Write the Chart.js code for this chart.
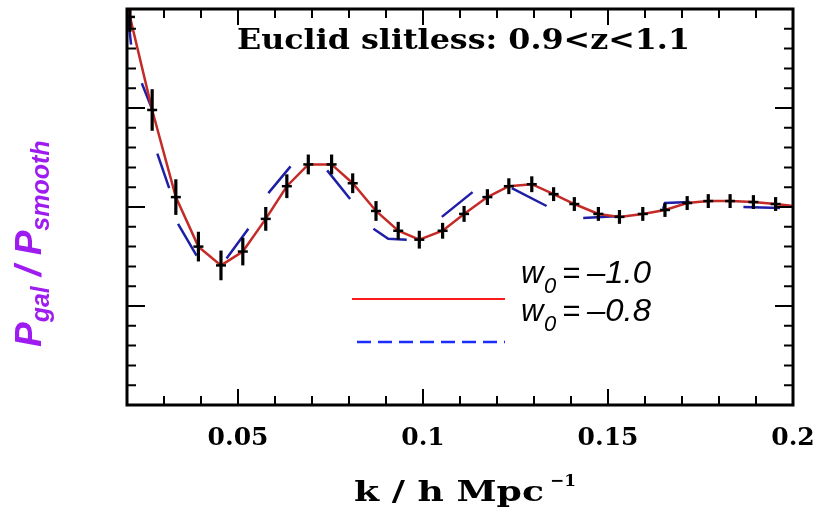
<!DOCTYPE html>
<html><head><meta charset="utf-8">
<script src="https://cdn.jsdelivr.net/npm/chart.js@4.4.1/dist/chart.umd.min.js"></script>
<style>html,body{margin:0;padding:0;background:#fff;}#wrap{width:823px;height:511px;}</style>
</head><body><div id="wrap"><canvas id="c" width="823" height="511"></canvas></div>
<script>
// ---- text ----
const titleText = "Euclid slitless: 0.9<z<1.1";
const xTitleMain = "k / h Mpc";
const xTitleSup = "\u22121";
const yTitleParts = [["P", false], ["gal", true], [" / ", false], ["P", false], ["smooth", true]];
const xTickLabels = ["0.05", "0.1", "0.15", "0.2"];
const legendLabels = ["\u20131.0", "\u20130.8"];

// ---- measured data points (k, Pgal/Psmooth, error) ----
const dataK = [0.0208, 0.0268, 0.0332, 0.0393, 0.0454, 0.0513, 0.0575, 0.0632, 0.0690, 0.0753,
               0.0810, 0.0873, 0.0933, 0.0990, 0.1053, 0.1111, 0.1174, 0.1232, 0.1294, 0.1353,
               0.1409, 0.1474, 0.1531, 0.1594, 0.1654, 0.1714, 0.1771, 0.1830, 0.1893, 0.1953];
const dataP = [1.192, 1.098, 1.010, 0.960, 0.941, 0.955, 0.988, 1.021, 1.043, 1.043,
               1.024, 0.996, 0.976, 0.967, 0.976, 0.993, 1.010, 1.021, 1.023, 1.013,
               1.003, 0.993, 0.990, 0.993, 0.997, 1.004, 1.006, 1.006, 1.005, 1.003];
const dataErr = [0.015, 0.021, 0.018, 0.015, 0.015, 0.014, 0.012, 0.012, 0.010, 0.010,
                 0.010, 0.010, 0.009, 0.009, 0.008, 0.008, 0.008, 0.008, 0.008, 0.007,
                 0.007, 0.007, 0.007, 0.007, 0.007, 0.007, 0.007, 0.007, 0.007, 0.007];

// ---- model w0 = -1.0 (solid red) ----
const modelK_w10 = [0.0200, 0.0208, 0.0268, 0.0332, 0.0393, 0.0454, 0.0513, 0.0575, 0.0632, 0.0690, 0.0753,
                    0.0810, 0.0873, 0.0933, 0.0990, 0.1053, 0.1111, 0.1174, 0.1232, 0.1294, 0.1353,
                    0.1409, 0.1474, 0.1531, 0.1594, 0.1654, 0.1714, 0.1771, 0.1830, 0.1893, 0.1953, 0.2000];
const modelP_w10 = [1.204, 1.192, 1.098, 1.010, 0.960, 0.941, 0.955, 0.988, 1.021, 1.043, 1.043,
                    1.024, 0.996, 0.976, 0.967, 0.976, 0.993, 1.010, 1.021, 1.023, 1.013,
                    1.003, 0.993, 0.990, 0.993, 0.997, 1.004, 1.006, 1.006, 1.005, 1.003, 1.001];

// ---- model w0 = -0.8 (blue, drawn as separate dashes) ----
const segK_w08 = [[0.0201, 0.0211], [0.0240, 0.0271], [0.0282, 0.0314], [0.0338, 0.0388],
                  [0.0469, 0.0528], [0.0582, 0.0642], [0.0741, 0.0803], [0.0866, 0.0906, 0.0956],
                  [0.1051, 0.1134], [0.1240, 0.1334], [0.1433, 0.1532], [0.1649, 0.1654, 0.1722],
                  [0.1866, 0.1965]];
const segP_w08 = [[1.199, 1.164], [1.125, 1.096], [1.054, 1.019], [0.983, 0.951],
                  [0.948, 0.978], [1.014, 1.041], [1.037, 1.008], [0.978, 0.968, 0.967],
                  [0.990, 1.015], [1.019, 1.001], [0.989, 0.991], [0.998, 1.004, 1.005],
                  [1.000, 0.999]];

// ---- build chart data ----
const pts = dataK.map((k, i) => ({x: k, y: dataP[i]}));
const red = modelK_w10.map((k, i) => ({x: k, y: modelP_w10[i]}));
const blue = [];
segK_w08.forEach((seg, s) => {
  seg.forEach((k, j) => blue.push({x: k, y: segP_w08[s][j]}));
  blue.push({x: seg[seg.length - 1], y: null});
});

const COL_RED = '#c42a26', COL_BLUE = '#1e1ea6', PURPLE = '#9f1cf0';

function fitText(ctx, txt, x, y, w) {
  const m = ctx.measureText(txt).width;
  ctx.save(); ctx.translate(x, y); ctx.scale(w / m, 1); ctx.fillText(txt, 0, 0); ctx.restore();
}

const decor = {
  id: 'decor',
  beforeDatasetDraw(chart, args) {
    if (args.index !== 0) return;
    const {ctx, chartArea: a, scales: {x, y}} = chart;
    ctx.save();
    ctx.beginPath(); ctx.rect(a.left, a.top, a.right - a.left, a.bottom - a.top); ctx.clip();
    ctx.strokeStyle = '#000'; ctx.lineWidth = 3.2;
    dataK.forEach((k, i) => {
      const px = x.getPixelForValue(k);
      ctx.beginPath();
      ctx.moveTo(px, y.getPixelForValue(dataP[i] - dataErr[i]));
      ctx.lineTo(px, y.getPixelForValue(dataP[i] + dataErr[i]));
      ctx.stroke();
    });
    ctx.restore();
  },
  afterDraw(chart) {
    const {ctx, chartArea: a, scales: {x, y}} = chart;
    ctx.save();
    // ticks
    ctx.strokeStyle = '#000'; ctx.lineWidth = 2;
    x.ticks.forEach(t => {
      const px = x.getPixelForValue(t.value);
      const major = Math.abs(t.value / 0.05 - Math.round(t.value / 0.05)) < 1e-6;
      const L = major ? 16 : 9;
      ctx.beginPath();
      ctx.moveTo(px, a.bottom); ctx.lineTo(px, a.bottom - L);
      ctx.moveTo(px, a.top); ctx.lineTo(px, a.top + L);
      ctx.stroke();
    });
    y.ticks.forEach(t => {
      const py = y.getPixelForValue(t.value);
      const major = Math.abs(t.value / 0.1 - Math.round(t.value / 0.1)) < 1e-6;
      const L = major ? 18 : 9;
      ctx.beginPath();
      ctx.moveTo(a.left, py); ctx.lineTo(a.left + L, py);
      ctx.moveTo(a.right, py); ctx.lineTo(a.right - L, py);
      ctx.stroke();
    });
    // frame
    ctx.lineWidth = 3;
    ctx.strokeRect(a.left, a.top, a.right - a.left, a.bottom - a.top);

    // title
    ctx.fillStyle = '#000';
    ctx.textBaseline = 'alphabetic'; ctx.textAlign = 'left';
    ctx.font = 'bold 27px "DejaVu Serif"';
    fitText(ctx, titleText, 237, 49, 453);

    // x axis title
    ctx.font = 'bold 27px "DejaVu Serif"';
    fitText(ctx, xTitleMain, 354, 501, 190);
    ctx.font = 'bold 17px "DejaVu Serif"';
    fitText(ctx, xTitleSup, 550, 486, 26);

    // y axis title (rotated)
    ctx.save();
    ctx.translate(41, 347); ctx.rotate(-Math.PI / 2);
    ctx.fillStyle = PURPLE;
    let u = 0;
    yTitleParts.forEach(([txt, sub]) => {
      ctx.font = sub ? 'italic bold 25px "Liberation Sans"' : 'italic bold 37px "Liberation Sans"';
      ctx.fillText(txt, u, sub ? 8 : 0);
      u += ctx.measureText(txt).width;
    });
    ctx.restore();

    // legend
    ctx.lineWidth = 2; ctx.strokeStyle = '#ff1a1a';
    ctx.beginPath(); ctx.moveTo(352, 299); ctx.lineTo(505, 299); ctx.stroke();
    ctx.strokeStyle = '#1a2cff'; ctx.lineWidth = 2.5; ctx.setLineDash([14, 7]);
    ctx.beginPath(); ctx.moveTo(357, 342); ctx.lineTo(505, 342); ctx.stroke();
    ctx.setLineDash([]);
    ctx.fillStyle = '#000';
    const rows = [283, 321];
    legendLabels.forEach((lab, i) => {
      const b = rows[i];
      ctx.font = 'italic 31px "Liberation Sans"';
      ctx.fillText('w', 521, b);
      ctx.font = 'italic 22px "Liberation Sans"';
      ctx.fillText('0', 544, b + 10);
      ctx.font = 'italic 31px "Liberation Sans"';
      ctx.fillText('=', 562, b);
      fitText(ctx, lab, 587, b, 64);
    });
    ctx.restore();
  }
};

new Chart(document.getElementById('c'), {
  type: 'scatter',
  data: {
    datasets: [
      {data: pts, showLine: false, pointStyle: 'line', pointRadius: 5, borderColor: '#000', backgroundColor: '#000', borderWidth: 2.5},
      {data: red, showLine: true, pointRadius: 0, borderColor: COL_RED, borderWidth: 2.5, tension: 0},
      {data: blue, showLine: true, pointRadius: 0, borderColor: COL_BLUE, borderWidth: 2.5, tension: 0, spanGaps: false}
    ]
  },
  options: {
    responsive: false, animation: false, devicePixelRatio: 1, events: [],
    layout: {padding: {left: 127, right: 30, top: 9, bottom: 0}},
    plugins: {legend: {display: false}, tooltip: {enabled: false}},
    scales: {
      x: {
        type: 'linear', min: 0.02, max: 0.2,
        afterFit: s => { s.height = 106; s.paddingLeft = 0; s.paddingRight = 0; },
        grid: {display: false, drawTicks: false},
        border: {display: false},
        ticks: {
          stepSize: 0.01, autoSkip: false, maxRotation: 0, padding: 18, color: '#000',
          font: {family: 'DejaVu Serif', size: 25, weight: 'bold'},
          callback: v => xTickLabels.find(l => Math.abs(parseFloat(l) - v) < 1e-9) || ''
        }
      },
      y: {
        type: 'linear', min: 0.8, max: 1.2,
        afterFit: s => { s.width = 0; },
        grid: {display: false, drawTicks: false},
        border: {display: false},
        ticks: {display: false, stepSize: 0.02}
      }
    }
  },
  plugins: [decor]
});
</script>
</body></html>
